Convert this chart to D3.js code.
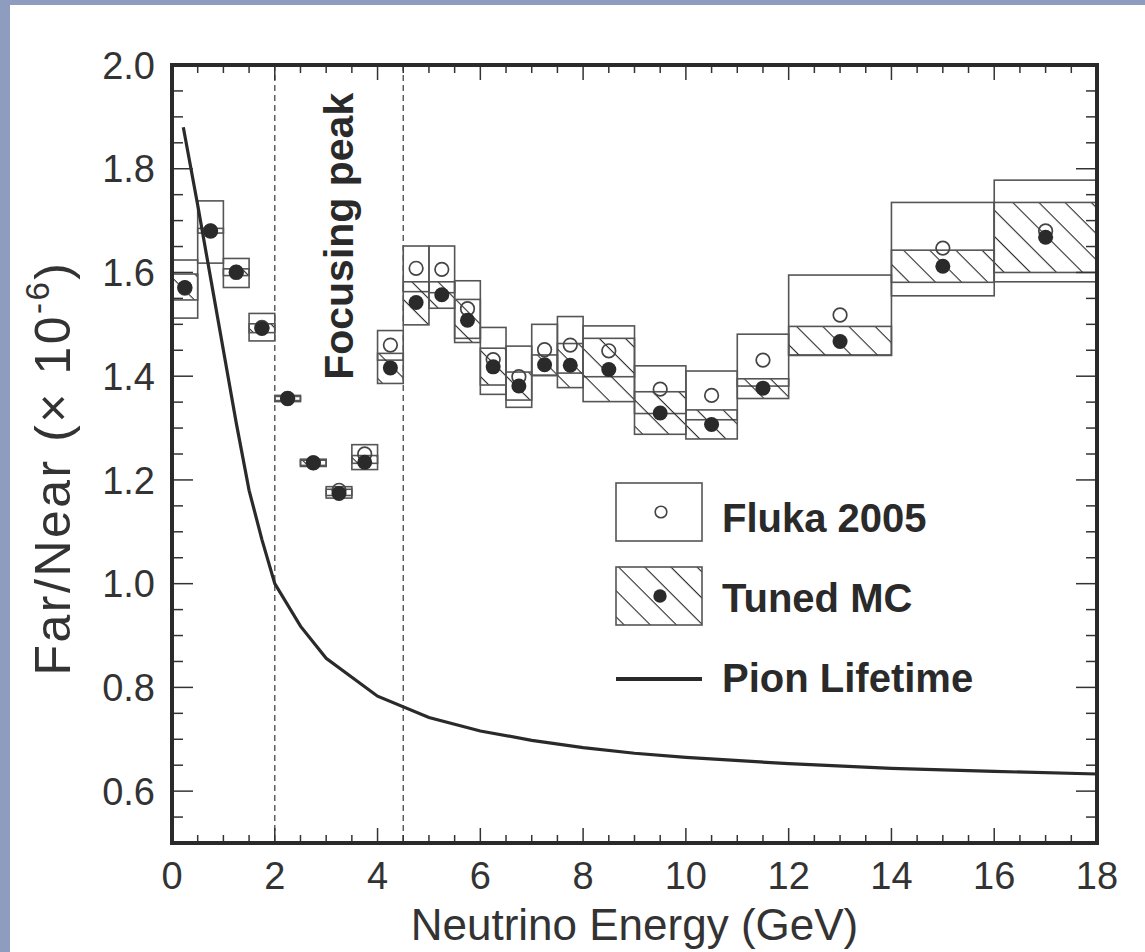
<!DOCTYPE html>
<html>
<head>
<meta charset="utf-8">
<script src="https://cdn.jsdelivr.net/npm/d3@7"></script>
<style>
  html, body { margin: 0; padding: 0; background: #ffffff; }
  svg { display: block; }
</style>
</head>
<body>
<svg id="chart" width="1145" height="952"></svg>
<script>
// Energy bins (GeV)
const binLow  = [0, 0.5, 1, 1.5, 2, 2.5, 3, 3.5, 4, 4.5, 5, 5.5, 6, 6.5, 7, 7.5, 8, 9, 10, 11, 12, 14, 16];
const binHigh = [0.5, 1, 1.5, 2, 2.5, 3, 3.5, 4, 4.5, 5, 5.5, 6, 6.5, 7, 7.5, 8, 9, 10, 11, 12, 14, 16, 18];

// Fluka 2005 far/near ratio (x 10^-6) with its error band
const flukaValue = [1.570, 1.680, 1.600, 1.494, 1.357, 1.233, 1.180, 1.250, 1.460, 1.608, 1.606, 1.530, 1.432, 1.399, 1.451, 1.460, 1.449, 1.375, 1.363, 1.431, 1.518, 1.647, 1.680];
const flukaLow   = [1.512, 1.618, 1.571, 1.468, 1.351, 1.226, 1.170, 1.232, 1.431, 1.563, 1.561, 1.473, 1.365, 1.340, 1.402, 1.406, 1.399, 1.328, 1.316, 1.381, 1.441, 1.555, 1.582];
const flukaHigh  = [1.624, 1.738, 1.627, 1.521, 1.363, 1.240, 1.187, 1.268, 1.488, 1.651, 1.651, 1.584, 1.494, 1.458, 1.500, 1.515, 1.497, 1.420, 1.410, 1.481, 1.595, 1.735, 1.778];

// Tuned MC far/near ratio with its error band
const tunedValue = [1.571, 1.680, 1.601, 1.492, 1.357, 1.233, 1.174, 1.234, 1.416, 1.542, 1.557, 1.508, 1.418, 1.381, 1.422, 1.421, 1.413, 1.329, 1.307, 1.377, 1.467, 1.612, 1.668];
const tunedLow   = [1.547, 1.676, 1.594, 1.484, 1.353, 1.228, 1.165, 1.220, 1.386, 1.499, 1.531, 1.465, 1.383, 1.354, 1.401, 1.378, 1.351, 1.288, 1.279, 1.357, 1.440, 1.581, 1.600];
const tunedHigh  = [1.597, 1.685, 1.607, 1.501, 1.361, 1.238, 1.182, 1.247, 1.444, 1.582, 1.582, 1.548, 1.454, 1.408, 1.441, 1.463, 1.473, 1.370, 1.335, 1.395, 1.496, 1.643, 1.735];

// Pion lifetime expectation
const pionEnergy = [0.22, 0.5, 0.75, 1, 1.25, 1.5, 1.75, 2, 2.5, 3, 4, 5, 6, 7, 8, 9, 10, 12, 14, 16, 18];
const pionRatio  = [1.88, 1.73, 1.59, 1.45, 1.31, 1.18, 1.085, 1.0, 0.918, 0.856, 0.783, 0.742, 0.716, 0.698, 0.684, 0.673, 0.665, 0.653, 0.644, 0.638, 0.633];

// Axis ticks and the focusing-peak window
const xTickLabels = [0, 2, 4, 6, 8, 10, 12, 14, 16, 18];
const yTickLabels = [0.6, 0.8, 1.0, 1.2, 1.4, 1.6, 1.8, 2.0];
const focusEdges = [2, 4.5];

(function draw() {
  const ink = "#2a2a2a";
  const boxStroke = "#555";
  const font = "'Liberation Sans', Arial, Helvetica, sans-serif";

  const svg = d3.select("#chart");

  // Page border bands
  svg.append("rect").attr("x", 0).attr("y", 0).attr("width", 1145).attr("height", 5).attr("fill", "#8e9dbf");
  svg.append("rect").attr("x", 0).attr("y", 0).attr("width", 10).attr("height", 952).attr("fill", "#8e9dbf");

  const pL = 172, pR = 1097, pT = 65, pB = 843;
  const x = d3.scaleLinear().domain([0, 18]).range([pL, pR]);
  const y = d3.scaleLinear().domain([0.5, 2.0]).range([pB, pT]);

  // Diagonal hatch pattern
  const defs = svg.append("defs");
  const pat = defs.append("pattern")
    .attr("id", "hatch")
    .attr("patternUnits", "userSpaceOnUse")
    .attr("width", 18.5).attr("height", 18.5)
    .attr("patternTransform", "rotate(45)");
  pat.append("line")
    .attr("x1", 0).attr("y1", 0).attr("x2", 18.5).attr("y2", 0)
    .attr("stroke", ink).attr("stroke-width", 2.2);

  // Focusing peak boundaries
  svg.append("g").selectAll("line").data(focusEdges).join("line")
    .attr("x1", d => x(d)).attr("x2", d => x(d))
    .attr("y1", pT).attr("y2", pB)
    .attr("stroke", "#555").attr("stroke-width", 1.4)
    .attr("stroke-dasharray", "6,4");

  svg.append("text")
    .attr("transform", `translate(${x(3.52)},${y(1.393)}) rotate(-90)`)
    .attr("font-family", font).attr("font-weight", "bold").attr("font-size", 41)
    .attr("fill", ink)
    .text("Focusing peak");

  const bins = d3.range(binLow.length);

  // Fluka error boxes
  svg.append("g").selectAll("rect").data(bins).join("rect")
    .attr("x", i => x(binLow[i])).attr("width", i => x(binHigh[i]) - x(binLow[i]))
    .attr("y", i => y(flukaHigh[i])).attr("height", i => y(flukaLow[i]) - y(flukaHigh[i]))
    .attr("fill", "none").attr("stroke", boxStroke).attr("stroke-width", 1.6);

  // Tuned MC hatched boxes
  svg.append("g").selectAll("rect").data(bins).join("rect")
    .attr("x", i => x(binLow[i])).attr("width", i => x(binHigh[i]) - x(binLow[i]))
    .attr("y", i => y(tunedHigh[i])).attr("height", i => y(tunedLow[i]) - y(tunedHigh[i]))
    .attr("fill", "url(#hatch)").attr("stroke", boxStroke).attr("stroke-width", 1.6);

  // Pion lifetime curve
  const line = d3.line().x(d => x(d[0])).y(d => y(d[1]));
  svg.append("path")
    .datum(pionEnergy.map((e, i) => [e, pionRatio[i]]))
    .attr("d", line)
    .attr("fill", "none").attr("stroke", ink).attr("stroke-width", 3.2);

  // Fluka points (open) and tuned points (filled)
  svg.append("g").selectAll("circle").data(bins).join("circle")
    .attr("cx", i => x((binLow[i] + binHigh[i]) / 2)).attr("cy", i => y(flukaValue[i]))
    .attr("r", 6.8).attr("fill", "none").attr("stroke", "#444").attr("stroke-width", 1.7);
  svg.append("g").selectAll("circle").data(bins).join("circle")
    .attr("cx", i => x((binLow[i] + binHigh[i]) / 2)).attr("cy", i => y(tunedValue[i]))
    .attr("r", 7.5).attr("fill", ink);

  // Legend
  const lg = svg.append("g");
  lg.append("rect").attr("x", 616).attr("y", 483).attr("width", 86).attr("height", 58)
    .attr("fill", "none").attr("stroke", boxStroke).attr("stroke-width", 1.6);
  lg.append("circle").attr("cx", 661).attr("cy", 512).attr("r", 5.8)
    .attr("fill", "none").attr("stroke", "#444").attr("stroke-width", 1.6);
  lg.append("rect").attr("x", 616).attr("y", 567).attr("width", 86).attr("height", 58)
    .attr("fill", "url(#hatch)").attr("stroke", boxStroke).attr("stroke-width", 1.6);
  lg.append("circle").attr("cx", 660).attr("cy", 596).attr("r", 6.7).attr("fill", ink);
  lg.append("line").attr("x1", 616).attr("x2", 702).attr("y1", 679).attr("y2", 679)
    .attr("stroke", ink).attr("stroke-width", 4);
  const legendLabels = [["Fluka 2005", 532], ["Tuned MC", 612], ["Pion Lifetime", 692]];
  lg.selectAll("text").data(legendLabels).join("text")
    .attr("x", 722).attr("y", d => d[1])
    .attr("font-family", font).attr("font-weight", "bold").attr("font-size", 40)
    .attr("fill", ink).text(d => d[0]);

  // Ticks on all four sides, pointing inward
  const tickG = svg.append("g").attr("stroke", "#333").attr("stroke-width", 1.5);
  d3.range(0, 18.001, 0.5).forEach(v => {
    const major = Math.abs(v / 2 - Math.round(v / 2)) < 1e-6;
    const len = major ? 15 : 8;
    tickG.append("line").attr("x1", x(v)).attr("x2", x(v)).attr("y1", pB).attr("y2", pB - len);
    tickG.append("line").attr("x1", x(v)).attr("x2", x(v)).attr("y1", pT).attr("y2", pT + len);
  });
  d3.range(0.5, 2.0001, 0.05).forEach(v => {
    const major = Math.abs(v / 0.2 - Math.round(v / 0.2)) < 1e-6;
    const len = major ? 21 : 11;
    tickG.append("line").attr("x1", pL).attr("x2", pL + len).attr("y1", y(v)).attr("y2", y(v));
    tickG.append("line").attr("x1", pR).attr("x2", pR - len).attr("y1", y(v)).attr("y2", y(v));
  });

  // Frame
  svg.append("rect").attr("x", pL).attr("y", pT)
    .attr("width", pR - pL).attr("height", pB - pT)
    .attr("fill", "none").attr("stroke", ink).attr("stroke-width", 4);

  // Tick labels
  svg.append("g").selectAll("text").data(xTickLabels).join("text")
    .attr("x", d => x(d)).attr("y", 889)
    .attr("text-anchor", "middle")
    .attr("font-family", font).attr("font-size", 38).attr("fill", "#333")
    .text(d => d);
  svg.append("g").selectAll("text").data(yTickLabels).join("text")
    .attr("x", 155).attr("y", d => y(d)).attr("dy", "0.36em")
    .attr("text-anchor", "end")
    .attr("font-family", font).attr("font-size", 38).attr("fill", "#333")
    .text(d => d3.format(".1f")(d));

  // Axis titles
  svg.append("text")
    .attr("x", (pL + pR) / 2).attr("y", 940)
    .attr("text-anchor", "middle")
    .attr("font-family", font).attr("font-size", 44).attr("fill", "#333")
    .text("Neutrino Energy (GeV)");

  const yTitle = svg.append("text")
    .attr("transform", `translate(70,468) rotate(-90)`)
    .attr("text-anchor", "middle")
    .attr("letter-spacing", 2.5)
    .attr("font-family", font).attr("font-size", 50).attr("fill", "#333");
  yTitle.append("tspan").text("Far/Near (× 10");
  yTitle.append("tspan").attr("font-size", 33).attr("dy", -21).text("-6");
  yTitle.append("tspan").attr("dy", 21).text(")");
})();
</script>
</body>
</html>
